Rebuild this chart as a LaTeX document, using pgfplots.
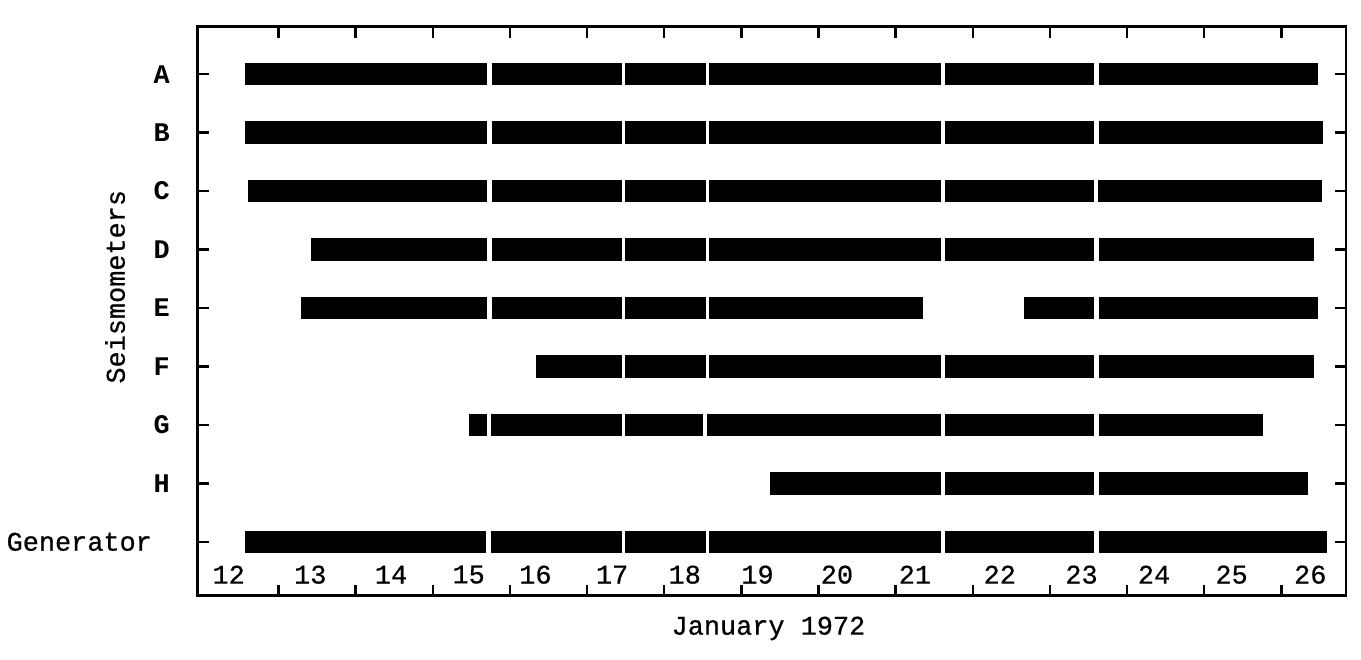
\documentclass[border=0pt]{standalone}
\usepackage{fontspec}
\usepackage{pgfplots}
\pgfplotsset{compat=1.18}
\newfontfamily\tw{Liberation Mono}[FakeBold=0.6]
\newfontfamily\twb{Liberation Mono Bold}
\newcommand\twf{\tw\fontsize{13.5}{16}\selectfont}
\newcommand\twbf{\twb\fontsize{13.5}{16}\selectfont}
\begin{document}
\begin{tikzpicture}
\begin{axis}[
  scale only axis, width=576.5pt, height=285.5pt,
  xmin=11.954, xmax=26.839, ymin=-0.92, ymax=8.81,
  axis line style={line width=1.4pt},
  tick align=inside,
  tick style={line width=1.2pt, black},
  major tick length=5.5pt,
  xtick={13,14,15,16,17,18,19,20,21,22,23,24,25,26},
  xticklabels={{},{},{},{},{},{},{},{},{},{},{},{},{},{}},
  extra x ticks={12.355,13.413,14.459,15.466,16.331,17.325,18.267,19.21,20.24,21.25,22.35,23.41,24.35,25.355,26.375},
  extra x tick labels={12,13,14,15,16,17,18,19,20,21,22,23,24,25,26},
  extra x tick style={major tick length=0pt, tick style={draw=none},
    xticklabel style={font=\twf, anchor=center, yshift=10.5pt}},
  ytick={0,1,2,3,4,5,6,7,8},
  yticklabels={{\twf Generator\hspace*{9pt}},{\twbf H},{\twbf G},{\twbf F},{\twbf E},{\twbf D},{\twbf C},{\twbf B},{\twbf A}},
  yticklabel style={xshift=-10.5pt},
  xlabel={January 1972},
  xlabel style={font=\twf, at={(axis description cs:0.497,0)}, anchor=center, yshift=-16.5pt},
  ylabel={Seismometers},
  ylabel style={font=\twf, at={(axis description cs:0,0.543)}, anchor=center, yshift=41.5pt},
  unbounded coords=jump,
  cycle list={{black, solid, no markers}},
  every axis plot/.append style={line width=11.25pt, black, line cap=butt, no markers, solid},
]
% A
\addplot coordinates {(12.561,8) (15.698,8) (nan,nan) (15.763,8) (17.454,8) (nan,nan) (17.493,8) (18.538,8) (nan,nan) (18.577,8) (21.585,8) (nan,nan) (21.637,8) (23.573,8) (nan,nan) (23.638,8) (26.478,8)};
% B
\addplot coordinates {(12.561,7) (15.698,7) (nan,nan) (15.763,7) (17.454,7) (nan,nan) (17.493,7) (18.538,7) (nan,nan) (18.577,7) (21.585,7) (nan,nan) (21.637,7) (23.573,7) (nan,nan) (23.638,7) (26.543,7)};
% C
\addplot coordinates {(12.600,6) (15.698,6) (nan,nan) (15.763,6) (17.454,6) (nan,nan) (17.493,6) (18.538,6) (nan,nan) (18.577,6) (21.585,6) (nan,nan) (21.637,6) (23.573,6) (nan,nan) (23.625,6) (26.530,6)};
% D
\addplot coordinates {(13.426,5) (15.698,5) (nan,nan) (15.763,5) (17.454,5) (nan,nan) (17.493,5) (18.538,5) (nan,nan) (18.577,5) (21.585,5) (nan,nan) (21.637,5) (23.573,5) (nan,nan) (23.638,5) (26.426,5)};
% E
\addplot coordinates {(13.297,4) (15.698,4) (nan,nan) (15.763,4) (17.454,4) (nan,nan) (17.493,4) (18.538,4) (nan,nan) (18.577,4) (21.353,4) (nan,nan) (22.670,4) (23.573,4) (nan,nan) (23.638,4) (26.478,4)};
% F
\addplot coordinates {(16.344,3) (17.454,3) (nan,nan) (17.493,3) (18.538,3) (nan,nan) (18.577,3) (21.585,3) (nan,nan) (21.637,3) (23.573,3) (nan,nan) (23.638,3) (26.426,3)};
% G
\addplot coordinates {(15.466,2) (15.698,2) (nan,nan) (15.750,2) (17.454,2) (nan,nan) (17.493,2) (18.500,2) (nan,nan) (18.551,2) (21.585,2) (nan,nan) (21.637,2) (23.573,2) (nan,nan) (23.638,2) (25.768,2)};
% H
\addplot coordinates {(19.378,1) (21.585,1) (nan,nan) (21.637,1) (23.573,1) (nan,nan) (23.638,1) (26.349,1)};
% Generator
\addplot coordinates {(12.561,0) (15.685,0) (nan,nan) (15.750,0) (17.454,0) (nan,nan) (17.493,0) (18.538,0) (nan,nan) (18.577,0) (21.585,0) (nan,nan) (21.637,0) (23.573,0) (nan,nan) (23.638,0) (26.594,0)};
\end{axis}
\path ([xshift=-96.5pt,yshift=-32pt]current axis.south west) rectangle ([xshift=7.5pt,yshift=13.5pt]current axis.north east);
\end{tikzpicture}
\end{document}
